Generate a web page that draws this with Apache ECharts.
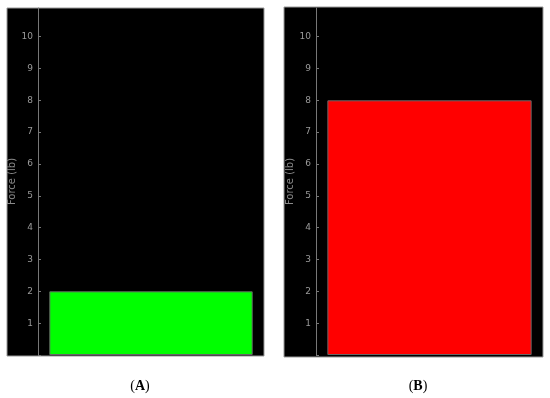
<!DOCTYPE html>
<html>
<head>
<meta charset="utf-8">
<script src="https://cdn.jsdelivr.net/npm/echarts@6/dist/echarts.min.js"></script>
<style>
  html, body { margin: 0; padding: 0; background: #fff; }
  #chart { width: 550px; height: 398px; }
</style>
</head>
<body>
<div id="chart"></div>
<script>
// panel data
const panels = ['A', 'B']
const categories = ['force']
const forceA = [2]
const forceB = [8]
const barColors = ['#00ff00', '#ff0000']
const yTicks = [1, 2, 3, 4, 5, 6, 7, 8, 9, 10]

const chart = echarts.init(document.getElementById('chart'))

const grids = [
  { left: 38, width: 226, top: 8, bottom: 43 },
  { left: 316, width: 227, top: 8, bottom: 43 }
]

function yAxis(i) {
  return {
    type: 'value',
    gridIndex: i,
    min: 0,
    max: 10.9,
    interval: 1,
    name: 'Force (lb)',
    nameLocation: 'middle',
    nameGap: 20,
    nameTextStyle: { color: '#8a8a8a', fontSize: 10, fontFamily: 'DejaVu Sans' },
    axisLine: { show: true, lineStyle: { color: '#777', width: 1 } },
    axisTick: {
      show: true, inside: true, length: 3,
      customValues: [0].concat(yTicks),
      lineStyle: { color: '#777' }
    },
    axisLabel: {
      color: '#9a9a9a',
      fontSize: 9,
      fontFamily: 'DejaVu Sans',
      margin: 5,
      customValues: yTicks
    },
    splitLine: { show: false }
  }
}

function xAxis(i) {
  return {
    type: 'category',
    gridIndex: i,
    data: categories,
    show: false
  }
}

const values = [forceA, forceB]

chart.setOption({
  animation: false,
  backgroundColor: '#fff',
  graphic: [
    { type: 'rect', z: -10, shape: { x: 7, y: 8, width: 257, height: 348 },
      style: { fill: '#000', stroke: '#999', lineWidth: 1 } },
    { type: 'rect', z: -10, shape: { x: 284, y: 7, width: 259, height: 350 },
      style: { fill: '#000', stroke: '#999', lineWidth: 1 } }
  ],
  title: panels.map((p, i) => ({
    text: '({b|' + p + '})',
    left: i === 0 ? 135 : 413,
    textAlign: 'center',
    top: 374,
    textStyle: {
      fontFamily: 'Liberation Serif',
      fontSize: 14,
      fontWeight: 'normal',
      color: '#000',
      rich: { b: { fontFamily: 'Liberation Serif', fontSize: 14, fontWeight: 'bold', color: '#000' } }
    }
  })),
  grid: grids,
  xAxis: [xAxis(0), xAxis(1)],
  yAxis: [yAxis(0), yAxis(1)],
  series: values.map((v, i) => ({
    type: 'bar',
    xAxisIndex: i,
    yAxisIndex: i,
    data: v,
    barCategoryGap: '10%',
    itemStyle: { color: barColors[i], borderColor: '#666', borderWidth: 1 }
  }))
})
</script>
</body>
</html>
